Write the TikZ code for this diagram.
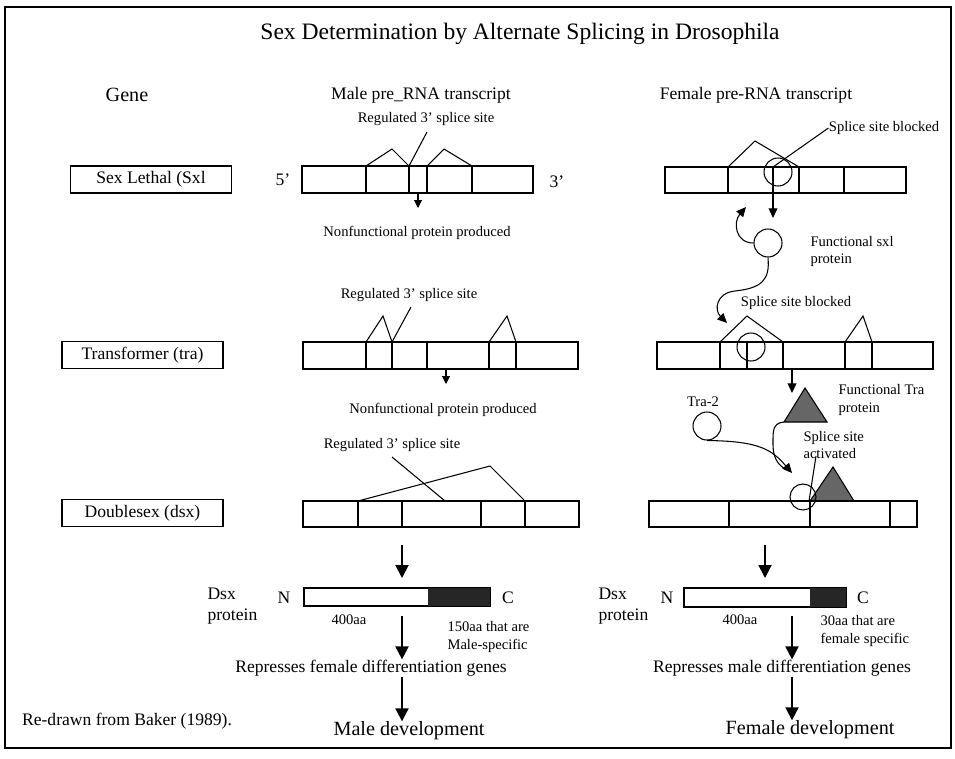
\documentclass[tikz,border=0pt]{standalone}
\usepackage{fontspec}
\setmainfont{Liberation Serif}
\usetikzlibrary{arrows.meta, positioning}
\newcommand{\titlesize}{\fontsize{13.4pt}{16pt}\selectfont}
\newcommand{\bigsize}{\fontsize{11.5pt}{14pt}\selectfont}
\newcommand{\midsize}{\fontsize{10pt}{11.9pt}\selectfont}
\newcommand{\smlsize}{\fontsize{8.3pt}{10pt}\selectfont}

\begin{document}
\begin{tikzpicture}[x=0.02cm, y=-0.02cm, line width=0.6pt,
        titletxt/.style={font=\titlesize, inner sep=0},
        bigtxt/.style={font=\bigsize, inner sep=0},
        midtxt/.style={font=\midsize, inner sep=0, align=left},
        smltxt/.style={font=\smlsize, inner sep=0, align=left},
        genebox/.style={draw, font=\midsize, minimum width=3.22cm, minimum height=0.54cm, inner sep=0},
        thinarrow/.style={-{Triangle[length=4.5pt, width=4.5pt]}},
        midarrow/.style={-{Triangle[length=5.5pt, width=5pt]}},
        thickarrow/.style={-{Triangle[length=7.4pt, width=7.4pt]}, line width=1.1pt},
        blob/.style={draw, circle, minimum size=0.56cm, inner sep=0},
        traprot/.style={draw, fill=black!60}]
    \useasboundingbox (0,0) rectangle (955,758);
    \draw[line width=0.9pt] (5,7) rectangle (951,748);

    \node[titletxt] (title) at (520,34) {Sex Determination by Alternate Splicing in Drosophila};
    \node[bigtxt] (gene) at (127,95) {Gene};
    \node[midtxt] (malehd) at (421,95) {Male pre\_RNA transcript};
    \node[midtxt] (femhd) at (756,95) {Female pre-RNA transcript};

    \node[genebox] (sxl) at (151,179.5) {Sex Lethal (Sxl};
    \node[genebox] (tra) at (142.5,355) {Transformer (tra)};
    \node[genebox] (dsx) at (142.5,513) {Doublesex (dsx)};

    % male: Sxl
    \node[midtxt] (five) at (283,180) {5'};
    \node[midtxt] (three) at (557,182) {3'};
    \draw (302,166) rectangle (533,193);
    \draw (366,166) -- (366,193) (409,166) -- (409,193) (427,166) -- (427,193) (472,166) -- (472,193);
    \draw (366,166) -- (392,149) -- (409,166) (427,166) -- (444,149) -- (472,166);
    \node[smltxt] (sxlmreg) at (426,119) {Regulated 3' splice site};
    \coordinate (sxlmsite) at (409,166);
    \coordinate (sxlmtip) at (427,132);
    \draw (sxlmsite) -- (sxlmtip);
    \node[smltxt] (sxlmno) at (417,233) {Nonfunctional protein produced};
    \coordinate (sxlmout) at (418,193);
    \draw[thinarrow] (sxlmout) -- (sxlmout |- 0,208);

    % male: tra
    \draw (303,342) rectangle (578,369);
    \draw (366,342) -- (366,369) (392,342) -- (392,369) (427,342) -- (427,369) (489,342) -- (489,369) (516,342) -- (516,369);
    \draw (366,342) -- (383,316) -- (392,342) (489,342) -- (507,316) -- (516,342);
    \node[smltxt] (tramreg) at (409,295) {Regulated 3' splice site};
    \coordinate (tramsite) at (392,342);
    \coordinate (tramtip) at (411,307);
    \draw (tramsite) -- (tramtip);
    \node[smltxt] (tramno) at (443,410) {Nonfunctional protein produced};
    \coordinate (tramout) at (446,369);
    \draw[thinarrow] (tramout) -- (tramout |- 0,384);

    % male: dsx
    \draw (303,501) rectangle (579,527);
    \draw (358,501) -- (358,527) (402,501) -- (402,527) (481,501) -- (481,527) (525,501) -- (525,527);
    \draw (358,501) -- (490,466) -- (525,501);
    \node[smltxt] (dsxmreg) at (392,445) {Regulated 3' splice site};
    \coordinate (dsxmsite) at (445,501);
    \coordinate (dsxmtip) at (392,457);
    \draw (dsxmsite) -- (dsxmtip);
    \coordinate (mx) at (402,0);
    \draw[thickarrow] (mx |- 0,545) -- (mx |- 0,578);

    \draw (304,588) rectangle (490,606);
    \fill[black!85] (428,588) rectangle (490,606);
    \node[midtxt] (mn) at (284,598) {N};
    \node[midtxt] (mc) at (508,598) {C};
    \node[midtxt, anchor=west] (mdsxp) at (207,606) {Dsx\\protein};
    \node[smltxt] (m400) at (349,620) {400aa};
    \node[smltxt, anchor=west] (m150) at (447,637) {150aa that are\\Male-specific};
    \node[midtxt] (mrep) at (371,668) {Represses female differentiation genes};
    \node[bigtxt] (mdev) at (409,731) {Male development};
    \draw[thickarrow] (mx |- 0,616) -- (mx |- mrep.north);
    \draw[thickarrow] (mx |- mrep.south) -- (mx |- mdev.north);

    % female: Sxl
    \draw (665,167) rectangle (906,193);
    \draw (728,167) -- (728,193) (799,167) -- (799,193) (844,167) -- (844,193);
    \draw (728,167) -- (755,141) -- (799,167);
    \node[blob] (sxlfcirc) at (778,172) {};
    \node[smltxt] (sxlfblk) at (884,128) {Splice site blocked};
    \coordinate (sxlfsite) at (773,167);
    \draw (sxlfsite) -- (sxlfblk.west);
    \draw[midarrow] (sxlfsite) -- (sxlfsite |- 0,218);
    \node[blob] (sxlp) at (768,243) {};
    \node[smltxt, anchor=west] (sxlplbl) at (810,251.5) {Functional sxl\\protein};
    \coordinate (sxlfhit) at (746,207);
    \draw[midarrow] (sxlp.west) .. controls (735,243) and (733,222) .. (sxlfhit);

    % female: tra
    \coordinate (trafhit) at (727,323);
    \draw[midarrow] (sxlp.south) .. controls (770,280) and (762,288) .. (735,291) .. controls (716,293) and (714,310) .. (trafhit);
    \draw (657,342) rectangle (933,369);
    \draw (720,342) -- (720,369) (747,342) -- (747,369) (783,342) -- (783,369) (845,342) -- (845,369) (872,342) -- (872,369);
    \draw (720,342) -- (747,316) -- (783,342) (845,342) -- (863,316) -- (872,342);
    \node[blob] (trafcirc) at (751,347) {};
    \node[smltxt] (trafblk) at (796,303) {Splice site blocked};
    \coordinate (trafout) at (792,369);
    \draw[midarrow] (trafout) -- (trafout |- 0,393);
    \coordinate (trabl) at (784,422);
    \draw[traprot] (trabl) -- (827,422) -- (805,388) -- cycle;
    \node[smltxt, anchor=west] (tralbl) at (838,400) {Functional Tra\\protein};
    \node[blob] (tra2) at (707,426) {};
    \node[smltxt] (tra2lbl) at (703,402) {Tra-2};
    \coordinate (dsxfhit) at (792,473);
    \draw[midarrow] (tra2.south) .. controls (760,441) and (772,450) .. (dsxfhit);
    \draw (trabl) .. controls (772,423) and (773,432) .. (773,445) .. controls (773,460) and (780,467) .. (789,471);
    \node[smltxt, anchor=west] (actlbl) at (803,445) {Splice site\\activated};

    % female: dsx
    \draw[traprot] (810,501) -- (854,501) -- (833,467) -- cycle;
    \node[blob, minimum size=0.52cm] (dsxfcirc) at (803,497) {};
    \coordinate (dsxfsite) at (809,501);
    \draw (816,456) -- (dsxfsite);
    \draw (649,501) rectangle (917,527);
    \draw (729,501) -- (729,527) (810,501) -- (810,527) (890,501) -- (890,527);
    \coordinate (fx) at (765,0);
    \draw[thickarrow] (fx |- 0,545) -- (fx |- 0,578);

    \draw (684,588) rectangle (846,607);
    \fill[black!85] (810,588) rectangle (846,607);
    \node[midtxt] (fn) at (667,598) {N};
    \node[midtxt] (fc) at (863,598) {C};
    \node[midtxt, anchor=west] (fdsxp) at (598,606) {Dsx\\protein};
    \node[smltxt] (f400) at (740,620) {400aa};
    \node[smltxt, anchor=west] (f30) at (820,631) {30aa that are\\female specific};
    \node[midtxt] (frep) at (782,668) {Represses male differentiation genes};
    \node[bigtxt] (fdev) at (810,730) {Female development};
    \coordinate (fy) at (792,0);
    \draw[thickarrow] (fy |- 0,616) -- (fy |- frep.north);
    \draw[thickarrow] (fy |- frep.south) -- (fy |- fdev.north);

    \node[midtxt] (credit) at (127,721) {Re-drawn from Baker (1989).};
\end{tikzpicture}
\end{document}
